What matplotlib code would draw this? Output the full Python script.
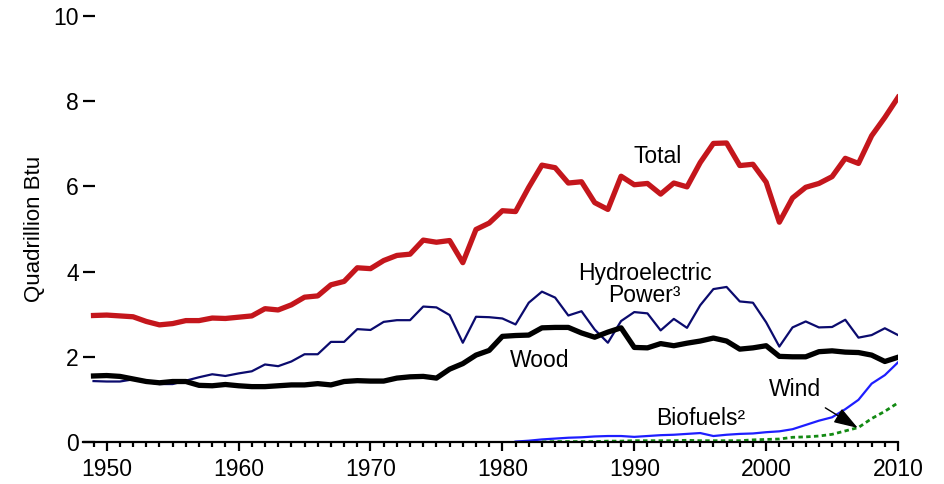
import numpy as np
import matplotlib
matplotlib.use('Agg')
import matplotlib.pyplot as plt
from matplotlib.ticker import MultipleLocator

# ---------------------------
# Data (quadrillion Btu)
# ---------------------------
years = list(range(1949, 2011))

total = [2.97, 2.98, 2.96, 2.94, 2.83, 2.75, 2.78, 2.85, 2.85, 2.91,
         2.90, 2.93, 2.96, 3.13, 3.10, 3.22, 3.40, 3.43, 3.69, 3.77,
         4.09, 4.07, 4.26, 4.38, 4.41, 4.74, 4.69, 4.73, 4.21, 4.99,
         5.14, 5.43, 5.41, 5.98, 6.50, 6.44, 6.08, 6.11, 5.62, 5.46,
         6.24, 6.04, 6.07, 5.82, 6.08, 5.99, 6.56, 7.01, 7.02, 6.49,
         6.52, 6.10, 5.16, 5.73, 5.98, 6.07, 6.23, 6.66, 6.54, 7.19,
         7.62, 8.09]

hydro = [1.43, 1.42, 1.42, 1.47, 1.41, 1.36, 1.36, 1.44, 1.52, 1.59,
         1.55, 1.61, 1.66, 1.82, 1.78, 1.89, 2.06, 2.06, 2.35, 2.35,
         2.65, 2.63, 2.82, 2.86, 2.86, 3.18, 3.16, 2.98, 2.33, 2.94,
         2.93, 2.90, 2.76, 3.27, 3.53, 3.39, 2.97, 3.07, 2.64, 2.33,
         2.84, 3.05, 3.02, 2.62, 2.89, 2.68, 3.21, 3.59, 3.64, 3.30,
         3.27, 2.81, 2.24, 2.69, 2.83, 2.69, 2.70, 2.87, 2.45, 2.51,
         2.67, 2.51]

wood = [1.55, 1.56, 1.54, 1.48, 1.42, 1.39, 1.42, 1.42, 1.33, 1.32,
        1.35, 1.32, 1.30, 1.30, 1.32, 1.34, 1.34, 1.37, 1.34, 1.42,
        1.44, 1.43, 1.43, 1.50, 1.53, 1.54, 1.50, 1.71, 1.84, 2.04,
        2.15, 2.48, 2.50, 2.51, 2.68, 2.69, 2.69, 2.56, 2.46, 2.58,
        2.68, 2.22, 2.21, 2.31, 2.26, 2.32, 2.37, 2.44, 2.37, 2.18,
        2.21, 2.26, 2.01, 2.00, 2.00, 2.12, 2.14, 2.11, 2.10, 2.04,
        1.89, 1.99]

blue_years = list(range(1981, 2011))
blue_vals = [0.01, 0.03, 0.06, 0.08, 0.10, 0.11, 0.13, 0.14, 0.14, 0.12,
             0.14, 0.16, 0.17, 0.19, 0.21, 0.14, 0.17, 0.19, 0.20, 0.23,
             0.25, 0.30, 0.40, 0.50, 0.58, 0.77, 0.99, 1.37, 1.57, 1.87]

green_years = list(range(1983, 2011))
green_vals = [0.00, 0.01, 0.01, 0.01, 0.01, 0.02, 0.02, 0.03, 0.03, 0.03,
              0.03, 0.04, 0.03, 0.03, 0.03, 0.03, 0.05, 0.06, 0.07, 0.11,
              0.12, 0.14, 0.18, 0.26, 0.34, 0.55, 0.72, 0.92]

# ---------------------------
# Figure
# ---------------------------
plt.rcParams['font.family'] = ['Liberation Sans', 'DejaVu Sans']
plt.rcParams['font.size'] = 16.5

fig = plt.figure(figsize=(9.45, 4.84), dpi=100)
ax = fig.add_axes([0.0878, 0.0868, 0.8625, 0.880])

ax.plot(years, total, color='#C4161C', lw=3.8)
ax.plot(years, hydro, color='#0B0B6E', lw=1.6)
ax.plot(years, wood, color='black', lw=3.8)
ax.plot(blue_years, blue_vals, color='#1E1EFF', lw=1.6)
ax.plot(green_years, green_vals, color='#138A13', lw=2.0, ls=(0, (1.6, 1.2)))

ax.set_xlim(1948.2, 2010)
ax.set_ylim(0, 10)

for s in ['left', 'top', 'right']:
    ax.spines[s].set_visible(False)
ax.spines['bottom'].set_linewidth(1.6)

ax.set_yticks([0, 2, 4, 6, 8, 10])
ax.tick_params(axis='y', direction='in', length=8.5, width=1.6, pad=3)
ax.set_xticks(range(1950, 2011, 10))
ax.xaxis.set_minor_locator(MultipleLocator(1))
ax.tick_params(axis='x', which='major', direction='out', length=6.5, width=1.6, pad=5)
ax.tick_params(axis='x', which='minor', direction='out', length=3.8, width=1.6)

ax.set_ylabel('Quadrillion Btu', fontsize=16, labelpad=6)

# series labels
ax.text(1991.8, 6.71, 'Total', ha='center', va='center')
ax.text(1990.8, 3.69, 'Hydroelectric\nPower³', ha='center', va='center', linespacing=0.95)
ax.text(1982.8, 1.92, 'Wood', ha='center', va='center')
ax.text(1995.0, 0.56, 'Biofuels²', ha='center', va='center')
ax.annotate('Wind', xy=(2006.95, 0.33), xytext=(2002.2, 1.24),
            ha='center', va='center',
            arrowprops=dict(arrowstyle='-|>,head_length=0.9,head_width=0.3',
                            color='black', lw=1.0, shrinkA=6, shrinkB=0))

fig.savefig('out.png', dpi=100)
plt.close()
